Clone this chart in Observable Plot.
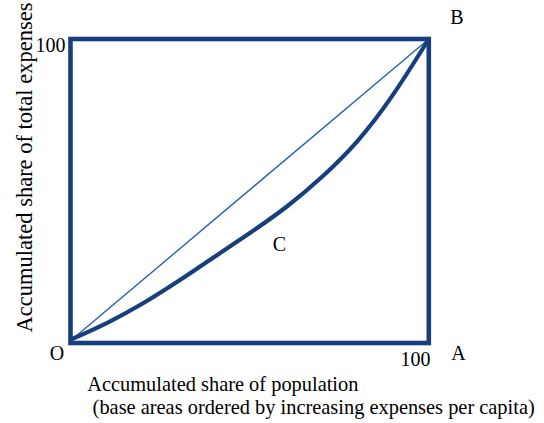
<!DOCTYPE html>
<html>
<head>
<meta charset="utf-8">
<script src="https://cdn.jsdelivr.net/npm/d3@7"></script>
<script src="https://cdn.jsdelivr.net/npm/@observablehq/plot@0.6"></script>
<style>
  html, body { margin: 0; padding: 0; background: #fff; }
  svg { display: block; }
</style>
</head>
<body>
<div id="chart"></div>
<script>
// Lorenz curve: accumulated share of population vs accumulated share of expenses
const popShare = [0, 10, 20, 30, 40, 50, 60, 70, 80, 90, 100];
const expShare = [0, 5.5, 12, 19.5, 27.5, 35.5, 44, 54, 66, 81.5, 100];
const equality = [0, 100];
const xTickLabel = "100";
const yTickLabel = "100";
const xTitle = ["Accumulated share of population", " (base areas ordered by increasing expenses per capita)"];
const yTitle = "Accumulated share of total expenses";
const cornerLabels = ["O", "A", "B"];
const curveLabel = "C";

const curve = popShare.map((p, i) => ({x: p, y: expShare[i]}));
const diag = equality.map(v => ({x: v, y: v}));

const font = "Liberation Serif, Times New Roman, serif";
const txt = (text, opts) => Plot.text([text], {text: d => d, fill: "#000", fontSize: 20, lineAnchor: "bottom", ...opts});

const chart = Plot.plot({
  width: 544,
  height: 423,
  marginLeft: 70,
  marginRight: 115.7,
  marginTop: 38.5,
  marginBottom: 80.5,
  style: {fontFamily: font, background: "#fff"},
  x: {domain: [0, 100], insetLeft: 2.7, axis: null},
  y: {domain: [0, 100], insetBottom: 4.5, axis: null},
  marks: [
    Plot.line(diag, {x: "x", y: "y", stroke: "#2a62b4", strokeWidth: 1.4}),
    Plot.line(curve, {x: "x", y: "y", stroke: "#173f7e", strokeWidth: 4.2, curve: "natural"}),
    Plot.frame({stroke: "#173f7e", strokeWidth: 4.6}),
    txt(cornerLabels[0], {frameAnchor: "bottom-left", textAnchor: "middle", dx: -13.5, dy: 16.5}),
    txt(cornerLabels[1], {frameAnchor: "bottom-right", textAnchor: "middle", dx: 29.7, dy: 16.8}),
    txt(cornerLabels[2], {frameAnchor: "top-right", textAnchor: "middle", dx: 28, dy: -15.2}),
    txt(xTickLabel, {frameAnchor: "bottom-right", textAnchor: "end", dx: 1.7, dy: 22.5}),
    txt(yTickLabel, {frameAnchor: "top-left", textAnchor: "end", dx: -5, dy: 13.2}),
    txt(curveLabel, {frameAnchor: "top-left", textAnchor: "middle", dx: 209, dy: 211.5}),
    txt(xTitle[0], {frameAnchor: "bottom-left", textAnchor: "start", dx: 16.7, dy: 48.2, fontSize: 20.4}),
    txt(xTitle[1], {frameAnchor: "bottom-left", textAnchor: "start", dx: 17, dy: 70.5, fontSize: 20.4}),
    txt(yTitle, {frameAnchor: "left", textAnchor: "middle", rotate: -90, dx: -39, dy: -23.5, fontSize: 22.5})
  ]
});
document.getElementById("chart").appendChild(chart);
</script>
</body>
</html>
